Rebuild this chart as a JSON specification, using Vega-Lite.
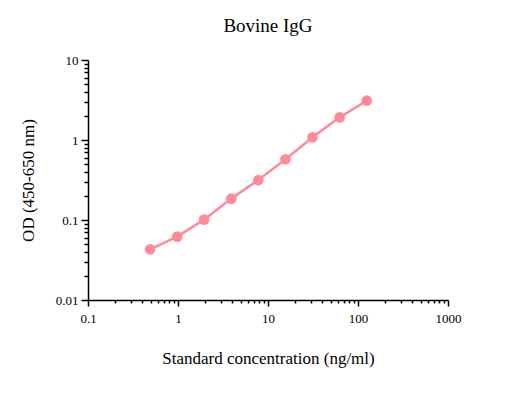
{
  "$schema": "https://vega.github.io/schema/vega-lite/v6.json",
  "width": 360,
  "height": 240,
  "autosize": {"type": "none"},
  "padding": {"left": 88, "top": 60, "right": 75, "bottom": 113},
  "background": "white",
  "title": {"text": "Bovine IgG", "font": "Liberation Serif", "fontSize": 19, "fontWeight": "normal", "color": "black", "offset": 18},
  "config": {"view": {"stroke": null}},
  "data": {"values": [
    {"conc": 0.49, "od": 0.043},
    {"conc": 0.98, "od": 0.062},
    {"conc": 1.95, "od": 0.101},
    {"conc": 3.91, "od": 0.185},
    {"conc": 7.81, "od": 0.316},
    {"conc": 15.63, "od": 0.574},
    {"conc": 31.25, "od": 1.08},
    {"conc": 62.5, "od": 1.92},
    {"conc": 125, "od": 3.1}
  ]},
  "encoding": {
    "x": {"field": "conc", "type": "quantitative",
      "scale": {"type": "log", "domain": [0.1, 1000], "nice": false},
      "axis": {
        "title": "Standard concentration (ng/ml)",
        "titleFont": "Liberation Serif", "titleFontSize": 17, "titleFontWeight": "normal", "titleColor": "black", "titlePadding": 25,
        "labelFont": "Liberation Serif", "labelFontSize": 13, "labelColor": "black", "labelPadding": 6,
        "values": [0.1,0.2,0.3,0.4,0.5,0.6,0.7,0.8,0.9,1,2,3,4,5,6,7,8,9,10,20,30,40,50,60,70,80,90,100,200,300,400,500,600,700,800,900,1000],
        "labelExpr": "abs(log(datum.value)/LN10 - round(log(datum.value)/LN10)) < 0.000001 ? datum.value : ''",
        "labelOverlap": false,
        "labelFlush": false,
        "grid": false,
        "domainColor": "black", "domainWidth": 1.5,
        "tickColor": "black", "tickWidth": 1.5,
        "tickSize": {"condition": {"test": "abs(log(datum.value)/LN10 - round(log(datum.value)/LN10)) < 0.000001", "value": 6}, "value": 3}
      }},
    "y": {"field": "od", "type": "quantitative",
      "scale": {"type": "log", "domain": [0.01, 10], "nice": false},
      "axis": {
        "title": "OD (450-650 nm)",
        "titleFont": "Liberation Serif", "titleFontSize": 17, "titleFontWeight": "normal", "titleColor": "black", "titlePadding": 18,
        "labelFont": "Liberation Serif", "labelFontSize": 13, "labelColor": "black", "labelPadding": 3,
        "values": [0.01,0.02,0.03,0.04,0.05,0.06,0.07,0.08,0.09,0.1,0.2,0.3,0.4,0.5,0.6,0.7,0.8,0.9,1,2,3,4,5,6,7,8,9,10],
        "labelExpr": "abs(log(datum.value)/LN10 - round(log(datum.value)/LN10)) < 0.000001 ? datum.value : ''",
        "labelOverlap": false,
        "labelFlush": false,
        "grid": false,
        "domainColor": "black", "domainWidth": 1.5,
        "tickColor": "black", "tickWidth": 1.5,
        "tickSize": {"condition": {"test": "abs(log(datum.value)/LN10 - round(log(datum.value)/LN10)) < 0.000001", "value": 7}, "value": 4}
      }}
  },
  "layer": [
    {"mark": {"type": "line", "color": "#ff8a99", "strokeWidth": 2.5}},
    {"mark": {"type": "circle", "color": "#ff8a99", "opacity": 1, "size": 115}}
  ]
}
